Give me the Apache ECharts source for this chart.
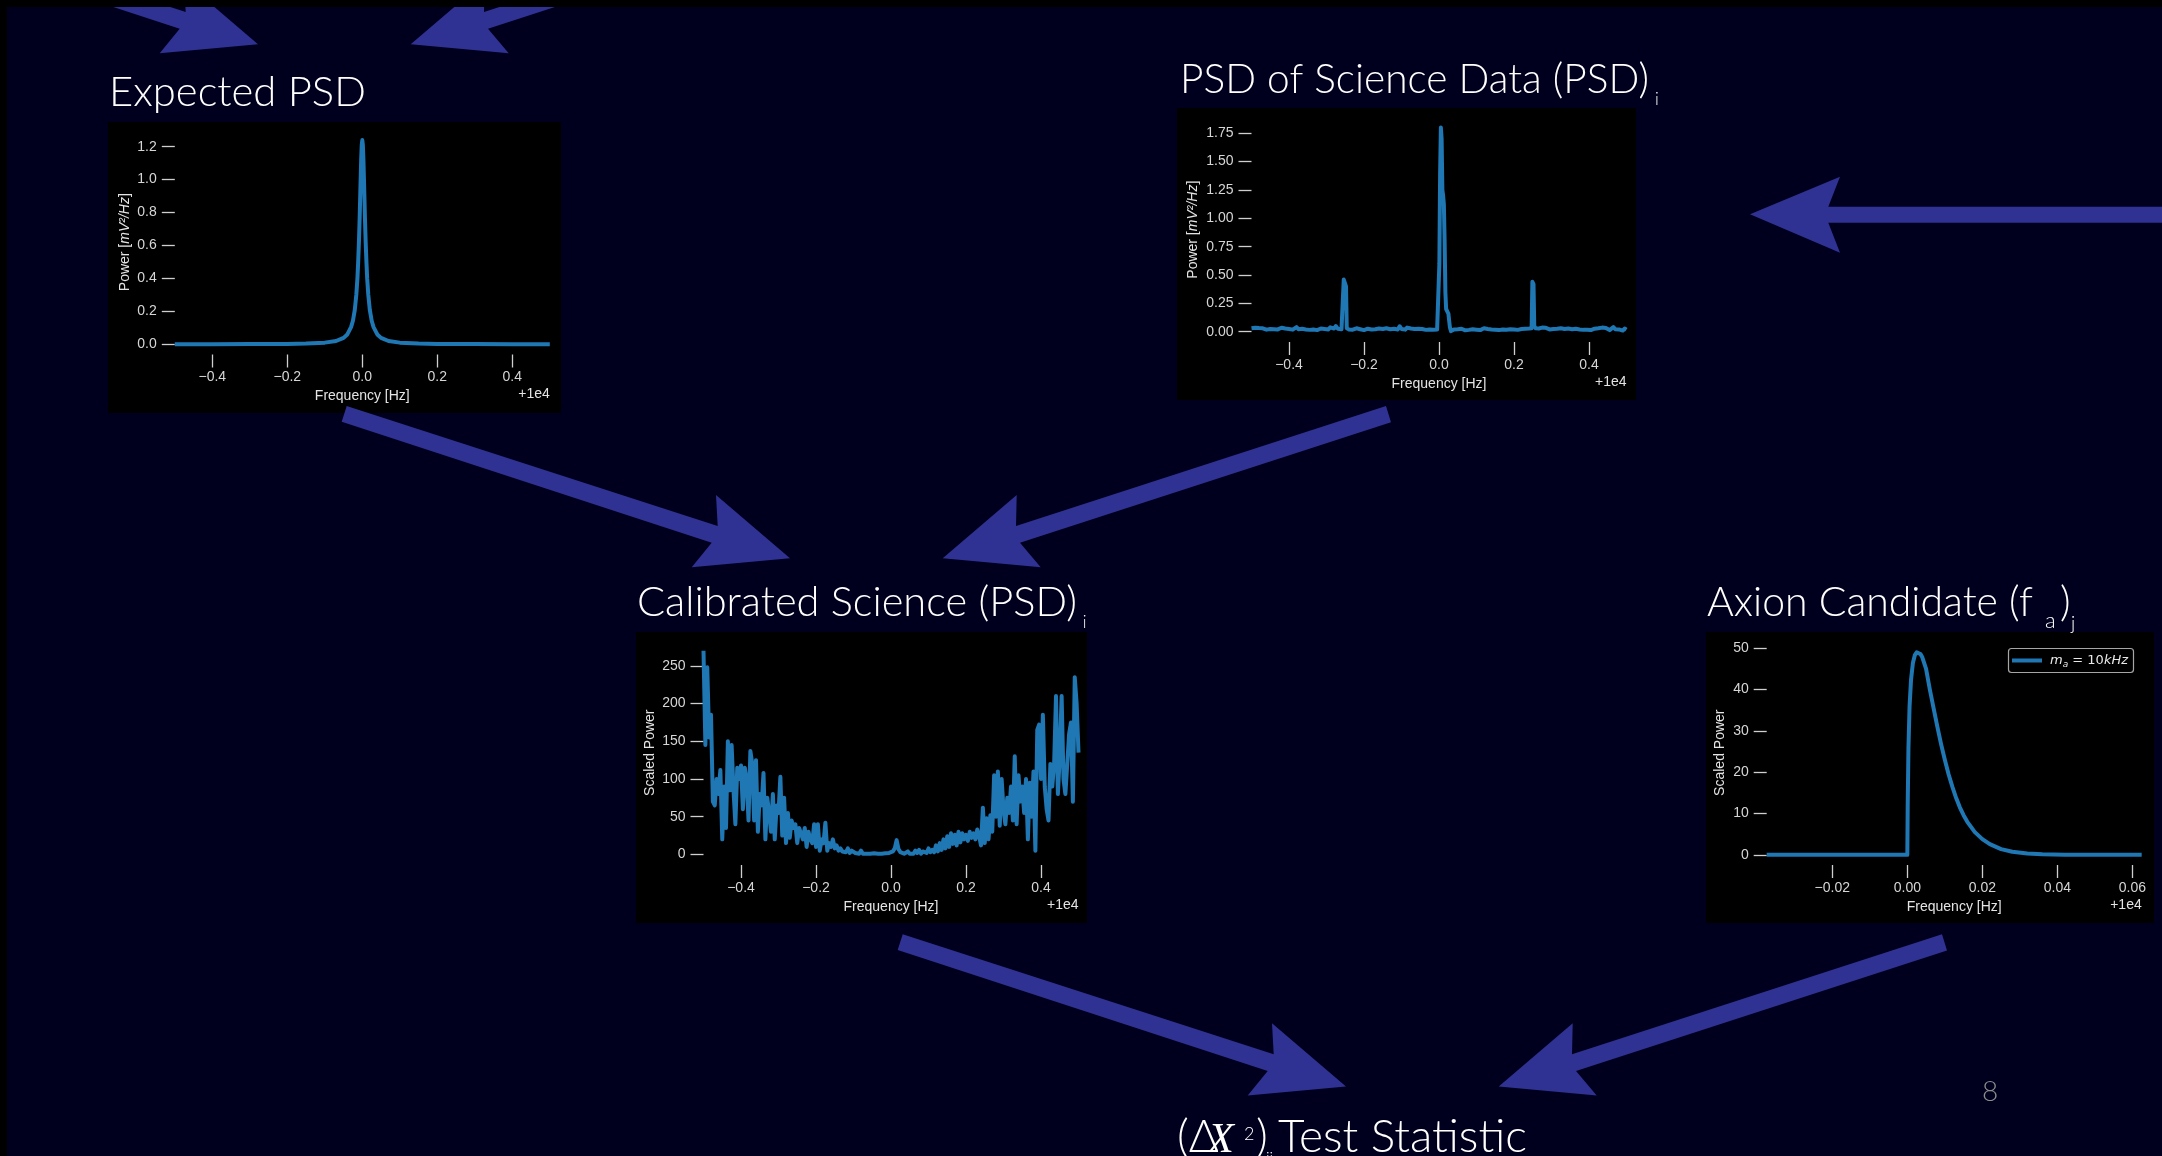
<!DOCTYPE html>
<html><head><meta charset="utf-8">
<style>html,body{margin:0;padding:0;background:#000;overflow:hidden}#c{width:2162px;height:1156px}</style>
<script src="https://cdn.jsdelivr.net/npm/echarts@6/dist/echarts.min.js"></script>
</head><body><div id="c"></div>
<script>
// ---------------- DATA ----------------
// Expected PSD (Lorentzian-like peak), frequency offset from 1e4 Hz
const expectedPSD = [
 [-0.5,0.0004],[-0.4,0.0006],[-0.3,0.0011],[-0.2,0.0025],[-0.15,0.0045],[-0.1,0.010],[-0.07,0.020],[-0.05,0.039],
 [-0.04,0.060],[-0.03,0.104],[-0.025,0.143],[-0.02,0.209],[-0.016,0.30],[-0.013,0.40],[-0.011,0.50],[-0.009,0.62],
 [-0.007,0.77],[-0.005,0.95],[-0.003,1.12],[-0.0015,1.21],[0,1.24],[0.0015,1.21],[0.003,1.12],[0.005,0.95],
 [0.007,0.77],[0.009,0.62],[0.011,0.50],[0.013,0.40],[0.016,0.30],[0.02,0.209],[0.025,0.143],[0.03,0.104],
 [0.04,0.060],[0.05,0.039],[0.07,0.020],[0.1,0.010],[0.15,0.0045],[0.2,0.0025],[0.3,0.0011],[0.4,0.0006],[0.5,0.0004]
];
// PSD of science data
const sciencePSD = [
 [-0.500,0.030],[-0.495,0.025],[-0.490,0.035],[-0.485,0.028],[-0.480,0.032],[-0.475,0.022],[-0.470,0.030],[-0.465,0.026],[-0.460,0.018],[-0.455,0.028],
 [-0.450,0.024],[-0.445,0.015],[-0.440,0.022],[-0.435,0.030],[-0.430,0.020],[-0.425,0.026],[-0.420,0.035],[-0.415,0.020],[-0.410,0.028],[-0.405,0.032],
 [-0.400,0.024],[-0.395,0.030],[-0.390,0.018],[-0.385,0.026],[-0.380,0.040],[-0.375,0.022],[-0.370,0.030],[-0.365,0.025],[-0.360,0.034],[-0.355,0.020],
 [-0.350,0.028],[-0.345,0.016],[-0.340,0.024],[-0.335,0.020],[-0.330,0.030],[-0.325,0.014],[-0.320,0.022],[-0.315,0.028],[-0.310,0.018],[-0.305,0.024],
 [-0.300,0.030],[-0.295,0.020],[-0.290,0.038],[-0.285,0.022],[-0.280,0.028],[-0.275,0.050],[-0.270,0.026],[-0.265,0.030],[-0.260,0.022],
 [-0.256,0.025],[-0.254,0.460],[-0.251,0.470],[-0.248,0.400],[-0.246,0.030],
 [-0.240,0.020],[-0.235,0.026],[-0.230,0.018],[-0.225,0.024],[-0.220,0.030],[-0.215,0.016],[-0.210,0.022],[-0.205,0.028],[-0.200,0.014],[-0.195,0.020],
 [-0.190,0.026],[-0.185,0.012],[-0.180,0.020],[-0.175,0.030],[-0.170,0.022],[-0.165,0.036],[-0.160,0.028],[-0.155,0.040],[-0.150,0.024],[-0.145,0.036],
 [-0.140,0.030],[-0.135,0.038],[-0.130,0.022],[-0.125,0.034],[-0.120,0.026],[-0.115,0.030],[-0.110,0.020],[-0.105,0.048],[-0.100,0.024],[-0.095,0.030],
 [-0.090,0.018],[-0.085,0.036],[-0.080,0.022],[-0.075,0.028],[-0.070,0.015],[-0.065,0.024],[-0.060,0.020],[-0.055,0.026],[-0.050,0.018],[-0.045,0.024],
 [-0.040,0.030],[-0.035,0.016],[-0.030,0.022],[-0.025,0.020],[-0.020,0.026],[-0.015,0.018],[-0.010,0.024],[-0.005,0.020],[-0.001,0.030],
 [0.001,0.600],[0.003,1.400],[0.005,1.800],[0.007,1.700],[0.009,1.250],[0.011,1.200],[0.013,1.120],[0.015,0.800],[0.017,0.350],[0.019,0.200],
 [0.022,0.180],[0.025,0.160],[0.027,0.100],[0.029,0.040],[0.032,0.005],[0.035,0.012],
 [0.040,0.020],[0.045,0.008],[0.050,0.022],[0.055,0.014],[0.060,0.026],[0.065,0.018],[0.070,0.012],[0.075,0.024],[0.080,0.016],[0.085,0.028],
 [0.090,0.022],[0.095,0.030],[0.100,0.018],[0.105,0.026],[0.110,0.014],[0.115,0.022],[0.120,0.030],[0.125,0.016],[0.130,0.024],[0.135,0.012],
 [0.140,0.020],[0.145,0.028],[0.150,0.018],[0.155,0.026],[0.160,0.014],[0.165,0.030],[0.170,0.020],[0.175,0.024],[0.180,0.018],[0.185,0.028],
 [0.190,0.022],[0.195,0.032],[0.200,0.020],[0.205,0.026],[0.210,0.016],[0.215,0.030],[0.220,0.024],[0.225,0.034],[0.230,0.026],[0.235,0.030],
 [0.240,0.028],[0.245,0.032],
 [0.247,0.030],[0.249,0.440],[0.252,0.420],[0.254,0.050],
 [0.258,0.030],[0.262,0.038],[0.266,0.028],[0.270,0.032],[0.275,0.036],[0.280,0.024],[0.285,0.034],[0.290,0.028],[0.295,0.020],[0.300,0.030],
 [0.305,0.024],[0.310,0.018],[0.315,0.026],[0.320,0.020],[0.325,0.030],[0.330,0.016],[0.335,0.024],[0.340,0.020],[0.345,0.028],[0.350,0.014],
 [0.355,0.022],[0.360,0.018],[0.365,0.026],[0.370,0.012],[0.375,0.020],[0.380,0.028],[0.385,0.016],[0.390,0.024],[0.395,0.018],[0.400,0.030],
 [0.405,0.014],[0.410,0.022],[0.415,0.026],[0.420,0.018],[0.425,0.030],[0.430,0.024],[0.435,0.036],[0.440,0.020],[0.445,0.032],[0.450,0.026],
 [0.455,0.014],[0.460,0.028],[0.465,0.040],[0.470,0.022],[0.475,0.030],[0.480,0.020],[0.485,0.036],[0.490,0.010],[0.495,0.028],[0.500,0.018]
];
// Calibrated science PSD, sampled every 0.005 Hz from -0.5
const calFreqStart = -0.5, calFreqStep = 0.005;
const calibratedPower = [
 270,145,248,155,185,70,65,100,80,112,
 20,90,35,150,85,145,85,40,115,100,
 118,60,115,100,45,137,120,45,125,30,
 80,65,108,20,75,55,30,80,20,65,
 55,103,25,75,15,55,22,45,35,40,
 15,35,28,20,35,10,30,20,15,40,
 10,40,5,20,15,42,5,15,10,20,
 8,12,5,8,4,6,3,8,2,5,
 7,2,4,1,5,1,2,1,1.5,1,
 1,1.5,1,1,1.5,1,1,1.5,1,2,
 1,4,8,19,7,3,5,1,2,4,
 1,3,1,5,2,6,1,4,6,2,
 8,3,6,3,12,4,15,6,20,8,
 24,10,28,14,26,12,30,16,28,20,
 26,18,30,22,28,20,33,24,12,62,
 15,48,20,52,30,105,50,110,38,100,
 60,40,75,55,90,45,130,40,105,70,
 90,55,100,20,95,50,110,5,165,172,
 100,185,90,60,45,120,90,120,210,80,
 130,210,100,80,120,160,175,70,235,200,
 135
];
// Axion candidate line shape
const axionFreq  = [-0.0375,0,0.0001,0.0003,0.0006,0.001,0.0015,0.002,0.0025,0.003,0.0035,0.004,0.005,0.006,0.007,0.008,0.009,0.010,0.011,0.012,0.013,0.014,0.015,0.016,0.018,0.020,0.022,0.025,0.028,0.032,0.036,0.042,0.05,0.0625];
const axionPower = [0,0,12,26,36,42.5,46.5,48.3,49,49,48.6,47.8,45,40,35.5,31,26.8,23,19.5,16.5,13.8,11.5,9.6,8,5.5,3.8,2.6,1.4,0.75,0.32,0.14,0.04,0.01,0];
// tick values
const freqTicks   = [-0.4,-0.2,0,0.2,0.4];
const expYTicks   = [0,0.2,0.4,0.6,0.8,1.0,1.2];
const sciYTicks   = [0,0.25,0.5,0.75,1.0,1.25,1.5,1.75];
const calYTicks   = [0,50,100,150,200,250];
const axXTicks    = [-0.02,0,0.02,0.04,0.06];
const axYTicks    = [0,10,20,30,40,50];
const axionName   = 'm_a = 10kHz';

// ---------------- STYLE / LAYOUT ----------------
const NAVY = '#00001e', ARROW = '#2f3193', LINE = '#1f78b4', TICK = '#cfcfcf', LAB = '#d6d6d6';
const TF = '"Lato","Open Sans","Noto Sans",sans-serif';
const AF = '"Liberation Sans",Arial,Helvetica,sans-serif';
const LF = '"DejaVu Sans",sans-serif';
const cv = document.createElement('canvas').getContext('2d');
function mw(font, t){ cv.font = font; return cv.measureText(t).width; }
function midOff(font){ cv.font = font; cv.textBaseline = 'middle'; const m = cv.measureText('H'); cv.textBaseline='alphabetic'; return m.actualBoundingBoxDescent; }
function tfont(s, w){ return (w||300) + ' ' + s + 'px ' + TF; }
function fit(t, target){ return 40 * target / mw(tfont(40), t); }
function textEl(t, x, baseline, font, fill, align){
  return {type:'text', x:x, y:baseline - midOff(font), z:60, silent:true,
    style:{text:t, font:font, fill:fill||'#fff', align:align||'left', textAlign:align||'left', verticalAlign:'middle', textVerticalAlign:'middle'}};
}

const panels = [
 {bg:[108,122,453,291], g:{left:174.8, top:129.9, width:375, height:224.6}, x:{min:-0.5,max:0.5,ticks:freqTicks,dec:1}, y:{min:-0.062,max:1.302,ticks:expYTicks,dec:1},
  yname:'power', ynameDx:-50, data: expectedPSD},
 {bg:[1177,108,459,292], g:{left:1251.5, top:117.4, width:375, height:224.6}, x:{min:-0.5,max:0.5,ticks:freqTicks,dec:1}, y:{min:-0.091,max:1.89,ticks:sciYTicks,dec:2},
  yname:'power', ynameDx:-58.5, data: sciencePSD},
 {bg:[636,632,451,291], g:{left:703.5, top:640.4, width:375, height:224.6}, x:{min:-0.5,max:0.5,ticks:freqTicks,dec:1}, y:{min:-14,max:283.7,ticks:calYTicks,dec:0},
  yname:'scaled', ynameDx:-53.5, data: calibratedPower.map((v,i)=>[calFreqStart + i*calFreqStep, v])},
 {bg:[1706,632,448,291], g:{left:1766.7, top:640.4, width:375, height:224.6}, x:{min:-0.0375,max:0.0625,ticks:axXTicks,dec:2}, y:{min:-2.45,max:51.88,ticks:axYTicks,dec:0},
  yname:'scaled', ynameDx:-47, data: axionFreq.map((f,i)=>[f, axionPower[i]]), name: axionName}
];

function fmt(dec){ return v => { let s = (Math.abs(v) < 1e-12 ? 0 : v).toFixed(dec); return s.replace('-', '\u2212'); }; }

const grids = [], xAxes = [], yAxes = [], series = [], gfx = [];
panels.forEach((p, i) => {
  grids.push(Object.assign({show:false, containLabel:false}, p.g));
  const common = (ax, margin) => ({
    gridIndex:i, type:'value', min:ax.min, max:ax.max,
    axisLine:{show:false, onZero:false},
    axisTick:{show:true, inside:false, length:13, customValues:ax.ticks, lineStyle:{color:TICK, width:1.3}},
    axisLabel:{show:true, customValues:ax.ticks, formatter:fmt(ax.dec), color:LAB, fontFamily:AF, fontSize:14, margin:margin},
    splitLine:{show:false}, z:5
  });
  xAxes.push(common(p.x, 16));
  yAxes.push(common(p.y, 18));
  series.push({type:'line', name:p.name || ('s'+i), xAxisIndex:i, yAxisIndex:i, data:p.data, showSymbol:false, symbol:'none',
    lineStyle:{color:LINE, width:4, join:'round'}, itemStyle:{color:LINE}, z:6, animation:false, silent:true});
  gfx.push({type:'rect', z:-5, silent:true, shape:{x:p.bg[0], y:p.bg[1], width:p.bg[2], height:p.bg[3]}, style:{fill:'#000'}});
  const bottom = p.g.top + p.g.height, cx = p.g.left + p.g.width/2;
  gfx.push({type:'text', x:cx, y:bottom+41.7, z:60, silent:true, style:{text:'Frequency [Hz]', font:'14px '+AF, fill:'#e4e4e4', align:'center', textAlign:'center', verticalAlign:'middle', textVerticalAlign:'middle'}});
  gfx.push({type:'text', x:p.g.left+p.g.width, y:bottom+40, z:60, silent:true, style:{text:'+1e4', font:'14px '+AF, fill:'#e4e4e4', align:'right', textAlign:'right', verticalAlign:'middle', textVerticalAlign:'middle'}});
  const yn = p.yname === 'power'
    ? {text:'{n|Power [}{i|mV\u00b2/Hz}{n|]}', rich:{n:{fontFamily:AF, fontSize:14, fill:'#e4e4e4'}, i:{fontFamily:AF, fontSize:14, fontStyle:'italic', fill:'#e4e4e4'}}}
    : {text:'Scaled Power', font:'14px '+AF};
  gfx.push({type:'text', x:p.g.left + p.ynameDx, y:p.g.top + p.g.height/2, rotation:Math.PI/2, z:60, silent:true,
    style:Object.assign({fill:'#e4e4e4', align:'center', textAlign:'center', verticalAlign:'middle', textVerticalAlign:'middle'}, yn)});
});

// legend of the axion panel (box, line sample, label)
gfx.push({type:'rect', z:20, silent:true, shape:{x:2008.5, y:648.5, width:125, height:24, r:3}, style:{fill:'#000', stroke:'#a6a6a6', lineWidth:1.2}});
gfx.push({type:'line', z:21, silent:true, shape:{x1:2012, y1:660.5, x2:2042, y2:660.5}, style:{stroke:LINE, lineWidth:4}});
gfx.push({type:'text', x:2050, y:660.5, z:21, silent:true, style:{
  text:'{i|m}{s|a}{n| = 10}{i|kHz}', align:'left', textAlign:'left', verticalAlign:'middle', textVerticalAlign:'middle',
  rich:{i:{fontStyle:'italic', fontSize:13, fill:'#e8e8e8', fontFamily:LF, lineHeight:16},
        n:{fontSize:13, fill:'#e8e8e8', fontFamily:LF, lineHeight:16},
        s:{fontStyle:'italic', fontSize:9, fill:'#e8e8e8', fontFamily:LF, lineHeight:9, padding:[8,0,0,0]}}}});

// ---------------- ARROWS ----------------
const arrowDR = [[346.7,406],[717.7,526],[716,495],[790,558.3],[691.7,567.3],[711.7,542.7],[341.7,421.7]];
const arrowDL = [[1386,406],[1016,526],[1016.7,495],[942.7,558.3],[1040.7,567.3],[1020,542.7],[1391,422.3]];
const arrowL  = [[1750,214.3],[1840,176.7],[1828.3,206.7],[2175,206.7],[2175,222.7],[1828.3,222.7],[1840,252.7]];
[[arrowDR,0,0],[arrowDL,0,0],[arrowDR,556,528.3],[arrowDL,556,528.3],[arrowDR,-532,-514],[arrowDL,-532,-514],[arrowL,0,0]].forEach(a => {
  gfx.push({type:'polygon', z:40, silent:true, shape:{points:a[0].map(pt=>[pt[0]+a[1], pt[1]+a[2]])}, style:{fill:ARROW}});
});

// ---------------- TITLES ----------------
function title(main, x, base, target){
  const s = fit(main, target); const f = tfont(s);
  gfx.push(textEl(main, x, base, f));
  return {s:s, end: x + mw(f, main)};
}
title('Expected PSD', 109, 106, 257);
let t2 = title('PSD of Science Data (PSD)', 1180, 93, 469);
gfx.push(textEl('i', t2.end + 6, 105, tfont(17)));
let t3 = title('Calibrated Science (PSD)', 637, 616, 440);
gfx.push(textEl('i', t3.end + 6, 628, tfont(17)));
let t4 = title('Axion Candidate (f', 1707, 616, 326);
gfx.push(textEl('a', t4.end + 12, 628, tfont(22)));
gfx.push(textEl(')', t4.end + 27, 616, tfont(t4.s)));
gfx.push(textEl('j', t4.end + 38, 630, tfont(19)));
// bottom title
const s5 = fit('Test Statistic', 249);
gfx.push(textEl('(\u0394', 1177, 1152, tfont(s5)));
gfx.push(textEl('X', 1208, 1152, 'italic 400 ' + (s5*0.92) + 'px "Liberation Serif","DejaVu Serif",serif'));
gfx.push(textEl('2', 1244, 1140, tfont(18)));
gfx.push(textEl(')', 1256, 1152, tfont(s5)));
gfx.push(textEl('ij', 1266, 1163, tfont(16)));
gfx.push(textEl('Test Statistic', 1278, 1152, tfont(s5)));
// page number
gfx.push({type:'text', x:1990, y:1092, z:60, silent:true, style:{text:'8', font:tfont(28), fill:'#8d8d8d', align:'center', textAlign:'center', verticalAlign:'middle', textVerticalAlign:'middle'}});
// outer black frame (top and left)
gfx.push({type:'rect', z:200, silent:true, shape:{x:0,y:0,width:2162,height:7}, style:{fill:'#000'}});
gfx.push({type:'rect', z:200, silent:true, shape:{x:0,y:0,width:7,height:1156}, style:{fill:'#000'}});

const chart = echarts.init(document.getElementById('c'), null, {renderer:'canvas', width:2162, height:1156});
chart.setOption({
  backgroundColor: NAVY,
  animation: false,
  grid: grids, xAxis: xAxes, yAxis: yAxes, series: series,
  graphic: {elements: gfx}
});
</script>
</body></html>
